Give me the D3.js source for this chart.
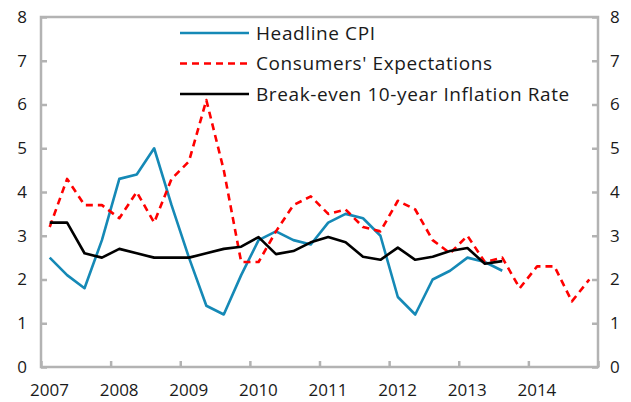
<!DOCTYPE html>
<html>
<head>
<meta charset="utf-8">
<script src="https://cdn.jsdelivr.net/npm/d3@7"></script>
<style>
    body { margin: 0; background: #fff; }
    svg text { font-family: "Open Sans", "Noto Sans", sans-serif; fill: #1a1a1a; }
</style>
</head>
<body>
<div id="chart"></div>
<script>
// quarterly data, 2007Q1 .. 2014Q4
let years = [2007, 2008, 2009, 2010, 2011, 2012, 2013, 2014];
let yTicks = [0, 1, 2, 3, 4, 5, 6, 7, 8];
let seriesNames = ["Headline CPI", "Consumers' Expectations", "Break-even 10-year Inflation Rate"];

let headlineCPI = [2.5, 2.1, 1.8, 2.9, 4.3, 4.4, 5.0, 3.7, 2.5, 1.4, 1.2, 2.1,
                   2.9, 3.1, 2.9, 2.8, 3.3, 3.5, 3.4, 3.0, 1.6, 1.2, 2.0, 2.2,
                   2.5, 2.4, 2.2];
let consumers = [3.2, 4.3, 3.7, 3.7, 3.4, 4.0, 3.3, 4.3, 4.7, 6.1, 4.5, 2.4,
                 2.4, 3.1, 3.7, 3.9, 3.5, 3.6, 3.2, 3.1, 3.8, 3.6, 2.9, 2.6,
                 3.0, 2.4, 2.5, 1.8, 2.3, 2.3, 1.5, 2.0];
let breakEven = [3.3, 3.3, 2.6, 2.5, 2.7, 2.6, 2.5, 2.5, 2.5, 2.6, 2.7, 2.75,
                 2.97, 2.58, 2.65, 2.85, 2.97, 2.85, 2.52, 2.45, 2.73, 2.45, 2.52, 2.65,
                 2.72, 2.36, 2.42];

let width = 631, height = 402;
let margin = { left: 41, right: 33, top: 17, bottom: 35 };
let colors = ["#1589b6", "#ff0000", "#000000"];
let dashes = [null, "7,5", null];
let axisColor = "#b3b3b3";

let svg = d3.select("#chart").append("svg")
    .attr("width", width)
    .attr("height", height);

let x = d3.scaleLinear()
    .domain([2007, 2015])
    .range([margin.left, width - margin.right]);
let y = d3.scaleLinear()
    .domain([0, 8])
    .range([height - margin.bottom, margin.top]);

// quarter i sits in the middle of its category slot
function qx(i) { return x(2007 + (i + 0.5) / 4); }

// left axis
let leftAxis = d3.axisLeft(y).tickValues(yTicks).tickSize(-6).tickPadding(14);
svg.append("g")
    .attr("transform", "translate(" + margin.left + ",0)")
    .call(leftAxis);
// right axis
let rightAxis = d3.axisRight(y).tickValues(yTicks).tickSize(-6).tickPadding(12);
svg.append("g")
    .attr("transform", "translate(" + (width - margin.right) + ",0)")
    .call(rightAxis);
// bottom axis, labels nudged right to sit under the first quarter
let bottomAxis = d3.axisBottom(x).tickValues(years.concat([2015])).tickSize(-6)
    .tickFormat(function(d) { return d < 2015 ? d : ""; });
let gx = svg.append("g")
    .attr("transform", "translate(0," + (height - margin.bottom) + ")")
    .call(bottomAxis);
gx.selectAll(".tick text").attr("dx", 8).attr("dy", 26);

svg.selectAll(".domain").remove();
svg.selectAll(".tick line").attr("stroke", axisColor).attr("stroke-width", 2.5);
svg.selectAll(".tick text").attr("font-size", 17).attr("fill", "#1a1a1a");

// plot frame
svg.append("rect")
    .attr("x", margin.left)
    .attr("y", margin.top)
    .attr("width", width - margin.left - margin.right)
    .attr("height", height - margin.top - margin.bottom)
    .attr("fill", "none")
    .attr("stroke", axisColor)
    .attr("stroke-width", 2.5);

let line = d3.line()
    .x(function(d, i) { return qx(i); })
    .y(function(d) { return y(d); });

[headlineCPI, consumers, breakEven].forEach(function(data, k) {
    svg.append("path")
        .datum(data)
        .attr("fill", "none")
        .attr("stroke", colors[k])
        .attr("stroke-width", 2.6)
        .attr("stroke-dasharray", dashes[k])
        .attr("stroke-linejoin", "round")
        .attr("d", line);
});

// legend
let legend = svg.append("g").attr("transform", "translate(180,33)");
seriesNames.forEach(function(name, k) {
    let row = legend.append("g").attr("transform", "translate(0," + (k * 30.5) + ")");
    row.append("line")
        .attr("x1", 0).attr("x2", 69)
        .attr("stroke", colors[k])
        .attr("stroke-width", 2.6)
        .attr("stroke-dasharray", dashes[k]);
    row.append("text")
        .attr("x", 76)
        .attr("dy", "0.35em")
        .attr("font-size", 19)
        .attr("letter-spacing", 0.6)
        .text(name);
});
</script>
</body>
</html>
